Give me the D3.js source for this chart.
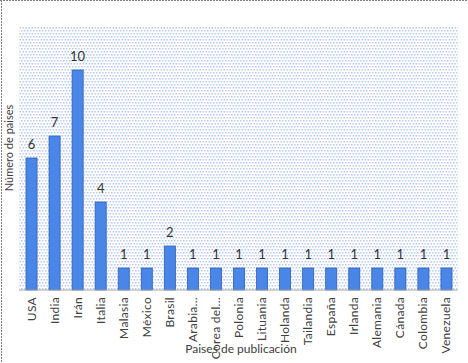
<!DOCTYPE html>
<html>
<head>
<meta charset="utf-8">
<script src="https://cdn.jsdelivr.net/npm/d3@7"></script>
<style>
body { margin: 0; background: #fff; }
text { font-family: Lato, "Open Sans", sans-serif; fill: #404040; }
</style>
</head>
<body>
<svg id="chart"></svg>
<script>
var w = 468, h = 363;
var margin = {top: 26, right: 10, bottom: 73, left: 20};

var paises = ["USA","India","Irán","Italia","Malasia","México","Brasil","Arabia...","Corea del...","Polonia",
              "Lituania","Holanda","Tailandia","España","Irlanda","Alemania","Cánada","Colombia","Venezuela"];
var valores = [6,7,10,4,1,1,2,1,1,1,1,1,1,1,1,1,1,1,1];
var yMax = 12;

var svg = d3.select("#chart")
	.attr("width", w)
	.attr("height", h)

// fondo punteado del area del grafico
var defs = svg.append("defs")
var pat = defs.append("pattern")
	.attr("id","puntos")
	.attr("patternUnits","userSpaceOnUse")
	.attr("width",6).attr("height",6)
pat.append("rect").attr("width",6).attr("height",6).attr("fill","#fff")
pat.append("rect").attr("x",0).attr("y",0).attr("width",1.5).attr("height",1.5).attr("fill","#a9d6f2")
pat.append("rect").attr("x",3).attr("y",0).attr("width",1.5).attr("height",1.5).attr("fill","#c3bcef")
pat.append("rect").attr("x",1.5).attr("y",3).attr("width",1.5).attr("height",1.5).attr("fill","#c3bcef")
pat.append("rect").attr("x",4.5).attr("y",3).attr("width",1.5).attr("height",1.5).attr("fill","#a9d6f2")

// borde punteado
svg.append("line").attr("x1",0).attr("x2",w).attr("y1",0.5).attr("y2",0.5)
	.style("stroke","#808080").style("stroke-dasharray","2,1")
svg.append("line").attr("x1",1.5).attr("x2",1.5).attr("y1",0).attr("y2",h)
	.style("stroke","#808080").style("stroke-dasharray","2,1")

var x = d3.scaleBand()
	.domain(paises)
	.range([margin.left, w - margin.right])
	.paddingInner(0.52)
	.paddingOuter(0.26)

var y = d3.scaleLinear()
	.domain([0, yMax])
	.range([h - margin.bottom, margin.top])

svg.append("rect")
	.attr("x", 19)
	.attr("y", margin.top)
	.attr("width", 458 - 19)
	.attr("height", y(0) - margin.top)
	.attr("fill", "url(#puntos)")

var barras = svg.append("g")
barras.selectAll("rect")
	.data(valores)
	.enter()
	.append("rect")
	.attr("x", function(d,i){ return x(paises[i]); })
	.attr("y", function(d){ return y(d); })
	.attr("width", x.bandwidth())
	.attr("height", function(d){ return y(0) - y(d); })
	.style("fill", "#4a86e8")
	.style("stroke", "#2d5fb3")
	.style("stroke-width", 0.8)

barras.selectAll("text")
	.data(valores)
	.enter()
	.append("text")
	.attr("x", function(d,i){ return x(paises[i]) + x.bandwidth()/2; })
	.attr("y", function(d){ return y(d) - 9; })
	.attr("text-anchor","middle")
	.style("font-size","13px")
	.style("fill","#333")
	.text(function(d){ return d; })

// eje x
svg.append("line")
	.attr("x1", 19).attr("x2", 458)
	.attr("y1", y(0)).attr("y2", y(0))
	.style("stroke","#a6a6a6")
	.style("stroke-width",1)

svg.append("g").selectAll("text")
	.data(paises)
	.enter()
	.append("text")
	.attr("transform", function(d){
		return "translate(" + (x(d) + x.bandwidth()/2 + 4) + "," + (y(0) + 7) + ") rotate(-90)";
	})
	.attr("text-anchor","end")
	.style("font-size","12px")
	.style("letter-spacing","0.3px")
	.text(function(d){ return d; })

svg.append("text")
	.attr("x", 241)
	.attr("y", 353)
	.attr("text-anchor","middle")
	.style("font-size","12px")
	.text("Paises de publicación")

svg.append("text")
	.attr("transform","translate(13,148) rotate(-90)")
	.attr("text-anchor","middle")
	.style("font-size","11px")
	.text("Número de paises")
</script>
</body>
</html>
